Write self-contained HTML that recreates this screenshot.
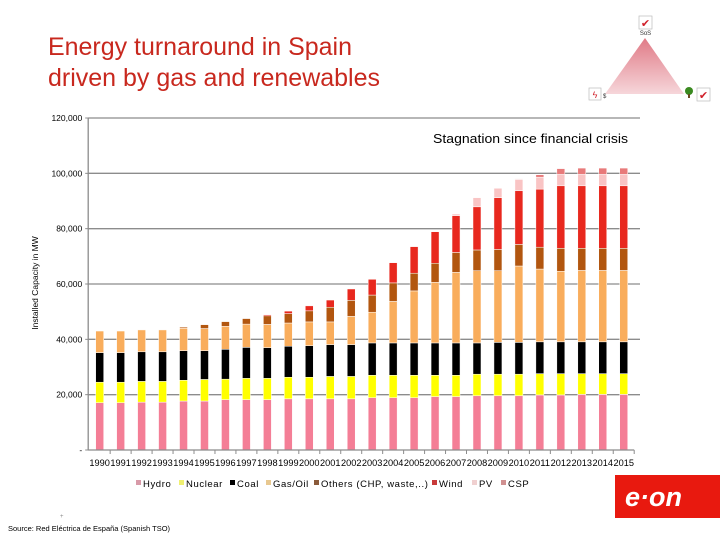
<!DOCTYPE html>
<html><head><meta charset="utf-8"><style>
body{margin:0;background:#fff;}
svg{display:block;font-family:"Liberation Sans",sans-serif;}
</style></head><body>
<svg id="chart" width="720" height="540" viewBox="0 0 720 540">
<text x="48" y="55" font-size="24.7" fill="#c8281e" textLength="304" lengthAdjust="spacingAndGlyphs">Energy turnaround in Spain</text>
<text x="48" y="86" font-size="24.7" fill="#c8281e" textLength="332" lengthAdjust="spacingAndGlyphs">driven by gas and renewables</text>
<g>
<defs><linearGradient id="tg" x1="0" y1="0" x2="0" y2="1"><stop offset="0" stop-color="#e07a86"/><stop offset="1" stop-color="#f6d6da"/></linearGradient></defs>
<polygon points="645,38 605,94 684,94" fill="url(#tg)"/>
<rect x="639" y="16" width="13" height="13" fill="#fff" stroke="#bbb" stroke-width="0.7"/>
<text x="645.5" y="27" font-size="11" fill="#d0202a" text-anchor="middle">✔</text>
<text x="645.5" y="35" font-size="6" fill="#333" text-anchor="middle">SoS</text>
<rect x="589" y="88" width="12" height="12" fill="#fff" stroke="#bbb" stroke-width="0.7"/>
<text x="595" y="98" font-size="9" fill="#d0202a" text-anchor="middle">ϟ</text>
<text x="603" y="98" font-size="6" fill="#333">$</text>
<circle cx="689" cy="91" r="4" fill="#3a8a20"/><rect x="688" y="94" width="2" height="4" fill="#6a4a20"/>
<rect x="697" y="88" width="13" height="13" fill="#fff" stroke="#bbb" stroke-width="0.7"/>
<text x="703.5" y="99" font-size="11" fill="#d0202a" text-anchor="middle">✔</text>
</g>
<g id="grid"></g>
<g id="bars"></g>
<g id="axes"></g>
<text x="433" y="143" font-size="12.5" fill="#000" textLength="195" lengthAdjust="spacingAndGlyphs">Stagnation since financial crisis</text>
<text transform="translate(38,283) rotate(-90)" font-size="8.5" text-anchor="middle" fill="#000">Installed Capacity in MW</text>
<g id="legend"></g>
<text x="60" y="518" font-size="6" fill="#888">+</text>
<text x="8" y="531" font-size="7.5" fill="#000">Source: Red Eléctrica de España (Spanish TSO)</text>
<g>
<rect x="615" y="475" width="105" height="43" fill="#e8190f"/>
<text x="625" y="506" font-size="27" font-style="italic" font-weight="bold" fill="#fff">e·on</text>
</g>
</svg>
<script>
const years=[1990,1991,1992,1993,1994,1995,1996,1997,1998,1999,2000,2001,2002,2003,2004,2005,2006,2007,2008,2009,2010,2011,2012,2013,2014,2015];
const seriesNames=["Hydro","Nuclear","Coal","Gas/Oil","Others (CHP, waste,..)","Wind","PV","CSP"];
const hydro=[17.1,17.1,17.3,17.3,17.7,17.7,18.2,18.2,18.2,18.5,18.5,18.5,18.5,18.9,18.9,18.9,19.3,19.3,19.6,19.6,19.6,19.9,19.9,20.1,20.1,20.1];
const nuclear=[7.4,7.4,7.5,7.5,7.5,7.8,7.4,7.7,7.7,7.8,7.8,8.1,8.1,8.1,8.1,8.1,7.7,7.7,7.8,7.8,7.8,7.7,7.7,7.5,7.5,7.5];
const coal=[10.7,10.7,10.7,10.7,10.7,10.4,10.8,11.2,11.1,11.2,11.4,11.5,11.5,11.7,11.7,11.7,11.7,11.7,11.3,11.5,11.5,11.5,11.5,11.5,11.5,11.5];
const gasOil=[7.8,7.8,7.9,7.9,8.1,8.0,8.3,8.4,8.4,8.4,8.6,8.2,10.2,11.1,15.0,18.8,21.9,25.5,26.1,25.9,27.6,26.3,25.5,25.8,25.8,25.8];
const others=[0,0,0,0,0.4,1.4,1.7,2.0,3.1,3.4,4.0,5.3,5.8,6.2,6.7,6.4,6.9,7.2,7.5,7.7,7.8,7.9,8.3,8.0,8.0,8.0];
const wind=[0,0,0,0,0,0,0,0,0.4,0.9,1.8,2.6,4.1,5.7,7.3,9.6,11.4,13.3,15.6,18.7,19.4,21.0,22.6,22.6,22.6,22.6];
const pv=[0,0,0,0,0,0,0,0,0,0,0,0,0,0,0,0,0,0.6,3.3,3.4,4.1,4.3,4.1,4.1,4.1,4.1];
const csp=[0,0,0,0,0,0,0,0,0,0,0,0,0,0,0,0,0,0,0,0,0.2,0.9,2.1,2.3,2.3,2.3];
const yTicks=[0,20000,40000,60000,80000,100000,120000];
const yTickLabels=["-","20,000","40,000","60,000","80,000","100,000","120,000"];

const NS="http://www.w3.org/2000/svg";
const series=[hydro,nuclear,coal,gasOil,others,wind,pv,csp];
const colors=["#f47e96","#ffff00","#000000","#f9ad5c","#b2560f","#e8281e","#f9c4c4","#e87a7a"];
const legendColors=["#d89aa8","#f0f070","#000000","#e8c890","#8a5a3a","#c83a3a","#f0d0d0","#d09090"];
const X0=89.2,X1=634.2,Y0=450,Y1=118,VMAX=120000;
const band=(X1-X0)/years.length;
const xc=i=>X0+band*(i+0.5);
const y=v=>Y0-(v/VMAX)*(Y0-Y1);
function el(tag,attrs,parent){const e=document.createElementNS(NS,tag);for(const k in attrs)e.setAttribute(k,attrs[k]);parent.appendChild(e);return e;}
const grid=document.getElementById('grid'),bars=document.getElementById('bars'),axes=document.getElementById('axes'),legend=document.getElementById('legend');
yTicks.forEach((t,i)=>{
  if(t>0){const g=el('line',{x1:X0-1,x2:640,y1:y(t),y2:y(t),stroke:'#8c8c8c','stroke-width':1.3},grid);
  
  }
  const tk=el('line',{x1:X0-4,x2:X0,y1:y(t),y2:y(t),stroke:'#8c8c8c','stroke-width':1},axes);
  
  
  const lb=el('text',{x:X0-7,y:y(t)+3,'font-size':8.5,'text-anchor':'end',fill:'#000'},axes);
  lb.textContent=yTickLabels[i];
  
  
});
const ax=el('line',{x1:X0-1,x2:X0-1,y1:Y1,y2:Y0,stroke:'#8c8c8c','stroke-width':1.3},axes);


const xa=el('line',{x1:X0-1,x2:X1,y1:Y0,y2:Y0,stroke:'#8c8c8c','stroke-width':1.3},axes);


years.forEach((yr,i)=>{
  const tk=el('line',{x1:X0+band*(i+1),x2:X0+band*(i+1),y1:Y0,y2:Y0+4,stroke:'#8c8c8c','stroke-width':1},axes);
  
  
  const lb=el('text',{x:xc(i),y:466,'font-size':9,'text-anchor':'middle',textLength:20.5,lengthAdjust:'spacingAndGlyphs',fill:'#000'},axes);
  lb.textContent=yr;
  
  
  let cum=0;
  series.forEach((s,k)=>{
    const v=s[i]*1000;if(v<=0)return;
    const r=el('rect',{x:xc(i)-4,width:8,y:y(cum+v),height:y(cum)-y(cum+v),fill:colors[k],stroke:'#fff','stroke-width':0.5},bars);
    
    
    cum+=v;
  });
});
const legX=[136,179,230,266,314,432,472,501];
seriesNames.forEach((n,k)=>{
  const sq=el('rect',{x:legX[k],y:480,width:5,height:5,fill:legendColors[k]},legend);
  
  
  const t=el('text',{x:legX[k]+7,y:487,'font-size':9.5,'letter-spacing':0.6,fill:'#000'},legend);
  t.textContent=n;
  
  
});
</script>
</body></html>
